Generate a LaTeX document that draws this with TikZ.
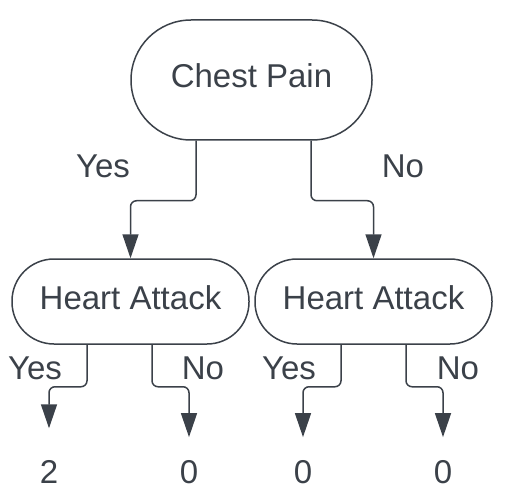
\documentclass[tikz,border=0pt]{standalone}
\usepackage{fontspec}
\setmainfont{Liberation Sans}
\usetikzlibrary{positioning,arrows.meta}
\definecolor{ink}{HTML}{3B4149}
\tikzset{pill/.style={draw=ink,line width=1.5pt,text=ink,text depth=8pt,font=\fontsize{33}{40}\selectfont},
link/.style={draw=ink,line width=1.5pt,rounded corners=6pt,-{Triangle[width=16pt,length=24pt]}},
word/.style={text=ink,inner sep=0pt,font=\fontsize{33}{40}\selectfont}}

\begin{document}
\begin{tikzpicture}[x=1pt,y=-1pt]
\useasboundingbox (0,0) rectangle (510,502);
\node[pill,rounded corners=60pt,minimum width=241pt,minimum height=120pt] (chest) at (251.5,80) {Chest Pain};
\node[pill,rounded corners=42pt,minimum width=237pt,minimum height=85pt] (heartyes) at (130.5,301.5) {Heart Attack};
\node[pill,rounded corners=42pt,minimum width=237pt,minimum height=85pt] (heartno) at (373.5,301.5) {Heart Attack};

\node[word] (yes) at (103,166) {Yes};
\node[word] (no) at (403,166) {No};
\node[word] (yesyes) at (35,368) {Yes};
\node[word] (yesno) at (203,368) {No};
\node[word] (noyes) at (289,368) {Yes};
\node[word] (nono) at (458,368) {No};

\node[word] (leafa) at (49,472) {2};
\node[word] (leafb) at (189,472) {0};
\node[word] (leafc) at (303,472) {0};
\node[word] (leafd) at (443,472) {0};

\draw[link] ([xshift=-55.5pt]chest.south) -- ++(0,60) -| (heartyes.north);
\draw[link] ([xshift=59.5pt]chest.south) -- ++(0,60) -| (heartno.north);
\draw[link,shorten >=32pt] ([xshift=-43.5pt]heartyes.south) -- ++(0,42) -| (leafa.north);
\draw[link,shorten >=23pt] ([xshift=21.5pt]heartyes.south) -- ++(0,42) -| (leafb.north);
\draw[link,shorten >=23pt] ([xshift=-32.5pt]heartno.south) -- ++(0,42) -| (leafc.north);
\draw[link,shorten >=23pt] ([xshift=32.5pt]heartno.south) -- ++(0,42) -| (leafd.north);
\end{tikzpicture}
\end{document}
